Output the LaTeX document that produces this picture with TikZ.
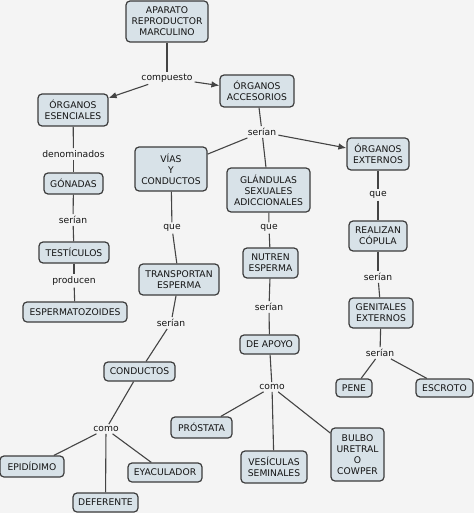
\documentclass[tikz,border=0pt]{standalone}
\usepackage{fontspec}
\setmainfont{DejaVu Sans}
\usetikzlibrary{arrows.meta}
\definecolor{bg}{HTML}{F4F4F4}
\definecolor{boxfill}{HTML}{D8E2E8}
\definecolor{boxline}{HTML}{3C3C3C}
\definecolor{conn}{HTML}{444444}
\definecolor{txt}{HTML}{141414}
\tikzset{
  cbox/.style={draw=boxline, line width=1.2pt, fill=boxfill, rounded corners=4pt,
    align=center, inner sep=1pt, text=txt, font=\fontsize{9.2}{11}\selectfont},
  lbl/.style={inner sep=2pt, text=txt, font=\fontsize{9.2}{11}\selectfont},
  cline/.style={draw=conn, line width=1.1pt},
  carrow/.style={cline, -{Latex[length=8pt,width=6.5pt]}}
}
\begin{document}
\begin{tikzpicture}[x=1pt,y=-1pt]
\fill[bg] (0,0) rectangle (474,513);
\useasboundingbox (0,0) rectangle (474,513);
% boxes
\node[cbox, minimum width=82pt, minimum height=41pt] (apa) at (167,21.5) {APARATO\\REPRODUCTOR\\MARCULINO};
\node[cbox, minimum width=74pt, minimum height=32pt] (acc) at (257,91) {ÓRGANOS\\ACCESORIOS};
\node[cbox, minimum width=70pt, minimum height=32pt] (ese) at (73,110) {ÓRGANOS\\ESENCIALES};
\node[cbox, minimum width=62pt, minimum height=32pt] (ext) at (378,154) {ÓRGANOS\\EXTERNOS};
\node[cbox, minimum width=72pt, minimum height=44pt] (vias) at (171,169) {VÍAS\\Y\\CONDUCTOS};
\node[cbox, minimum width=83pt, minimum height=44pt] (glan) at (268.5,190) {GLÁNDULAS\\SEXUALES\\ADICCIONALES};
\node[cbox, minimum width=59pt, minimum height=21pt] (gon) at (73.5,183.5) {GÓNADAS};
\node[cbox, minimum width=58pt, minimum height=30pt] (real) at (378,236) {REALIZAN\\CÓPULA};
\node[cbox, minimum width=70pt, minimum height=21pt] (test) at (74,252.5) {TESTÍCULOS};
\node[cbox, minimum width=55pt, minimum height=30pt] (nut) at (270.5,263) {NUTREN\\ESPERMA};
\node[cbox, minimum width=80pt, minimum height=31pt] (trans) at (179,279.5) {TRANSPORTAN\\ESPERMA};
\node[cbox, minimum width=104pt, minimum height=20pt] (esp) at (75,312) {ESPERMATOZOIDES};
\node[cbox, minimum width=64pt, minimum height=30pt] (gen) at (381,313) {GENITALES\\EXTERNOS};
\node[cbox, minimum width=59pt, minimum height=19pt] (apoyo) at (269.5,344.5) {DE APOYO};
\node[cbox, minimum width=71pt, minimum height=19pt] (cond) at (139.5,371.5) {CONDUCTOS};
\node[cbox, minimum width=36pt, minimum height=18pt] (pene) at (354,388) {PENE};
\node[cbox, minimum width=57pt, minimum height=18pt] (escr) at (444.5,388) {ESCROTO};
\node[cbox, minimum width=61pt, minimum height=21pt] (prost) at (201.5,427.5) {PRÓSTATA};
\node[cbox, minimum width=53pt, minimum height=53pt] (bulbo) at (357.5,454.5) {BULBO\\URETRAL\\O\\COWPER};
\node[cbox, minimum width=66pt, minimum height=32pt] (ves) at (274,467) {VESÍCULAS\\SEMINALES};
\node[cbox, minimum width=64pt, minimum height=21pt] (epi) at (32,466.5) {EPIDÍDIMO};
\node[cbox, minimum width=74pt, minimum height=19pt] (eyac) at (165,472.5) {EYACULADOR};
\node[cbox, minimum width=65pt, minimum height=19pt] (def) at (105.5,502.5) {DEFERENTE};
% labels
\node[lbl] (l1) at (167,78) {compuesto};
\node[lbl] (l2) at (262,132) {serían};
\node[lbl] (l3) at (73.5,154) {denominados};
\node[lbl] (l4) at (73,220) {serían};
\node[lbl] (l5) at (172,228) {que};
\node[lbl] (l6) at (269,228) {que};
\node[lbl] (l7) at (378,195) {que};
\node[lbl] (l8) at (74,281) {producen};
\node[lbl] (l9) at (378,277) {serían};
\node[lbl] (l10) at (269,307) {serían};
\node[lbl] (l11) at (171,323) {serían};
\node[lbl] (l12) at (380,353) {serían};
\node[lbl] (l13) at (272,387) {como};
\node[lbl] (l14) at (106,429) {como};
% connectors
\draw[cline] (apa) -- (l1);
\draw[carrow] (l1) -- (ese);
\draw[carrow] (l1) -- (acc);
\draw[cline] (acc) -- (l2);
\draw[cline] (l2) -- (vias);
\draw[cline] (l2) -- (glan);
\draw[carrow] (l2) -- (ext);
\draw[cline] (ese) -- (l3);
\draw[cline] (l3) -- (gon);
\draw[cline] (gon) -- (l4);
\draw[cline] (l4) -- (test);
\draw[cline] (test) -- (l8);
\draw[cline] (l8) -- (esp);
\draw[cline] (vias) -- (l5);
\draw[cline] (l5) -- (trans);
\draw[cline] (trans) -- (l11);
\draw[cline] (l11) -- (cond);
\draw[cline] (cond) -- (l14);
\draw[cline] (l14) -- (epi);
\draw[cline] (l14) -- (def);
\draw[cline] (l14) -- (eyac);
\draw[cline] (glan) -- (l6);
\draw[cline] (l6) -- (nut);
\draw[cline] (nut) -- (l10);
\draw[cline] (l10) -- (apoyo);
\draw[cline] (apoyo) -- (l13);
\draw[cline] (l13) -- (prost);
\draw[cline] (l13) -- (ves);
\draw[cline] (l13) -- (bulbo);
\draw[cline] (ext) -- (l7);
\draw[cline] (l7) -- (real);
\draw[cline] (real) -- (l9);
\draw[cline] (l9) -- (gen);
\draw[cline] (gen) -- (l12);
\draw[cline] (l12) -- (pene);
\draw[cline] (l12) -- (escr);
\end{tikzpicture}
\end{document}
